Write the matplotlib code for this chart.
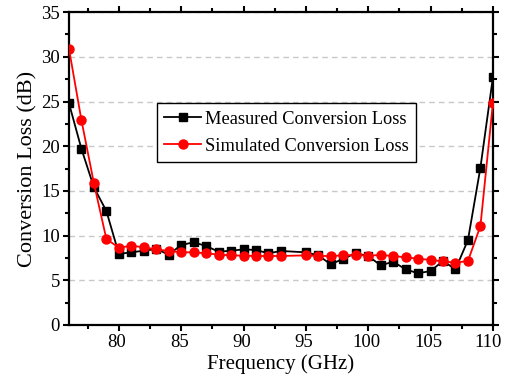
import numpy as np
import matplotlib.pyplot as plt
import matplotlib.transforms as mtransforms
from matplotlib.ticker import MultipleLocator

# --- Dati ---
freq = [76, 77, 78, 79, 80, 81, 82, 83, 84, 85, 86, 87, 88, 89, 90, 91, 92, 93,
        95, 96, 97, 98, 99, 100, 101, 102, 103, 104, 105, 106, 107, 108, 109, 110]

measured = [24.8, 19.7, 15.4, 12.75, 7.95, 8.13, 8.31, 8.5, 7.87, 8.95, 9.25, 8.84,
            8.2, 8.31, 8.46, 8.39, 8.02, 8.28,
            8.13, 7.79, 6.78, 7.42, 8.02, 7.72, 6.67, 7.08, 6.23, 5.78, 6.04, 7.16,
            6.23, 9.5, 17.6, 27.7]

simulated = [30.9, 22.9, 15.85, 9.62, 8.65, 8.87, 8.69, 8.46, 8.28, 8.13, 8.13, 8.02,
             7.87, 7.79, 7.76, 7.72, 7.72, 7.72,
             7.79, 7.72, 7.72, 7.79, 7.83, 7.76, 7.83, 7.72, 7.57, 7.42, 7.27, 7.12,
             6.97, 7.16, 11.07, 24.8]

plt.rcParams['font.family'] = ['Liberation Serif', 'DejaVu Serif']

fig = plt.figure(figsize=(5.05, 3.91), dpi=100)
ax = fig.add_axes([0.1366, 0.1688, 0.8394, 0.8002])

ax.plot(freq, measured, color='black', marker='s', markersize=5.5, linewidth=1.3,
        label='Measured Conversion Loss', zorder=3)
ax.plot(freq, simulated, color='red', marker='o', markersize=6.5, linewidth=1.3,
        label='Simulated Conversion Loss', zorder=4)

ax.set_xlim(76, 110)
ax.set_ylim(0, 35)
ax.xaxis.set_major_locator(MultipleLocator(5))
ax.xaxis.set_minor_locator(MultipleLocator(2.5))
ax.yaxis.set_major_locator(MultipleLocator(5))
ax.yaxis.set_minor_locator(MultipleLocator(2.5))

ax.tick_params(which='both', direction='out', top=True, right=True, width=1.5,
               labelsize=13.5, pad=2)
ax.tick_params(which='major', length=4.5)
ax.tick_params(which='minor', length=3)
for s in ax.spines.values():
    s.set_linewidth(1.6)

# griglia tratteggiata solo orizzontale
ax.yaxis.grid(True, linestyle=(0, (4, 3)), color='#c8c8c8', linewidth=1)
ax.set_axisbelow(True)

ax.set_xlabel('Frequency (GHz)', fontsize=15, labelpad=2)
ax.set_ylabel('Conversion Loss (dB)', fontsize=16, labelpad=3)

# le etichette dell'asse x sono leggermente spostate a sinistra
fig.canvas.draw()
shift = mtransforms.ScaledTranslation(-2 / 100, 0, fig.dpi_scale_trans)
for lab in ax.get_xticklabels():
    lab.set_transform(lab.get_transform() + shift)
last = ax.get_xticklabels()[-1]
for lab in ax.get_xticklabels():
    if lab.get_text() == '110':
        lab.set_transform(lab.get_transform() +
                          mtransforms.ScaledTranslation(-3 / 100, 0, fig.dpi_scale_trans))

leg = ax.legend(loc='upper left', bbox_to_anchor=(0.2075, 0.709), fontsize=13.2,
                frameon=True, fancybox=False, edgecolor='black', framealpha=1,
                handlelength=2.0, handletextpad=0.2, borderpad=0.4,
                labelspacing=0.55, borderaxespad=0)
leg.get_frame().set_linewidth(1.0)

fig.savefig('out.png', dpi=100)
